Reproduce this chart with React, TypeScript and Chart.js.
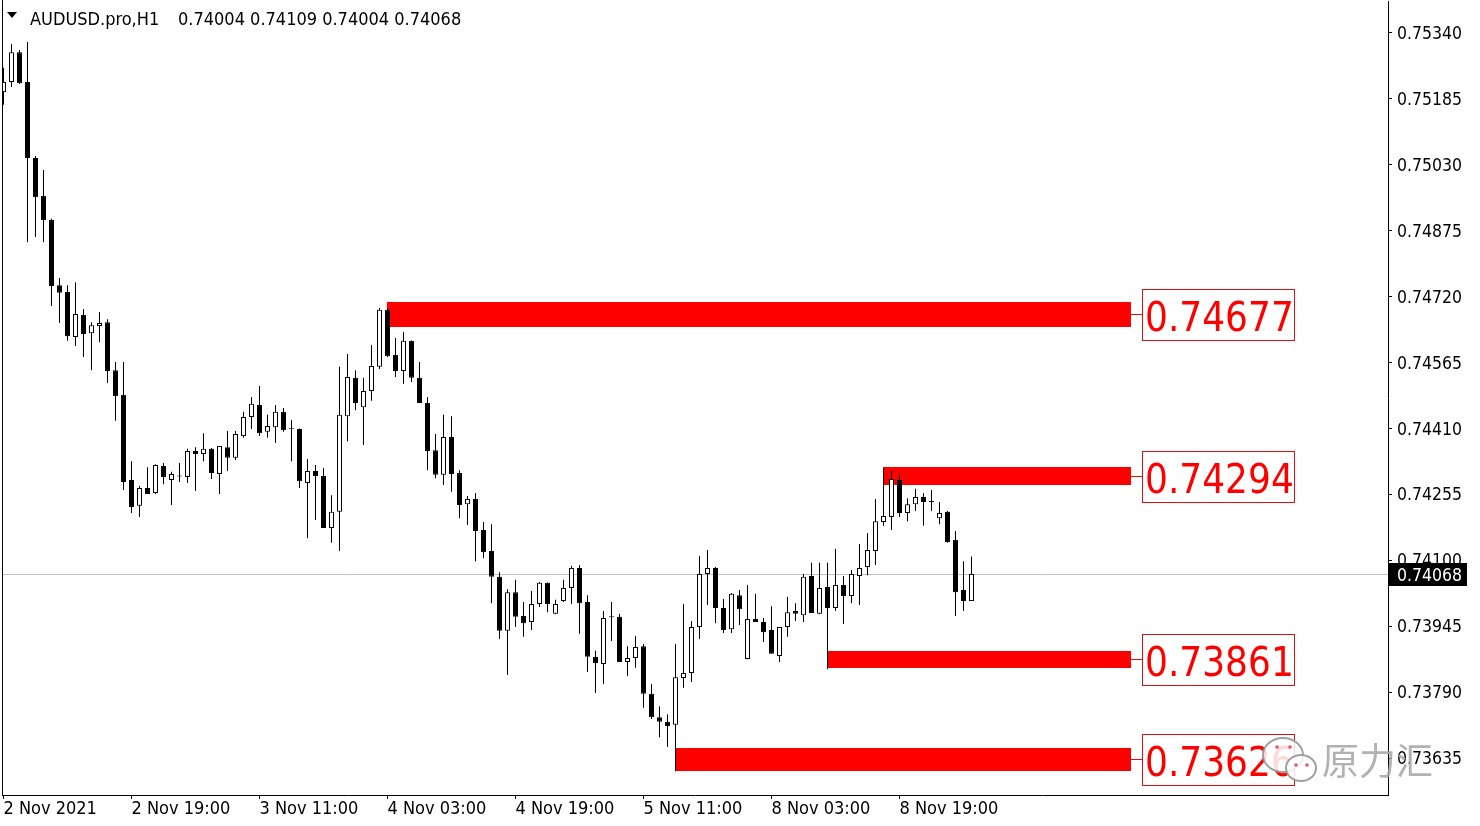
import React, { useEffect, useRef } from 'react';
import { Chart, registerables } from 'chart.js';

Chart.register(...registerables);

const W = 1480;
const H = 826;
const FONT = '"DejaVu Sans Condensed", "DejaVu Sans", sans-serif';

const symbolTitle = 'AUDUSD.pro,H1';

const opens = [
  0.75201, 0.75225, 0.75295, 0.75225, 0.75046, 0.74957, 0.74900, 0.74747, 0.74731, 0.74625,
  0.74677, 0.74634, 0.74651, 0.74660, 0.74547, 0.74489, 0.74289, 0.74228, 0.74270, 0.74258,
  0.74322, 0.74289, 0.74297, 0.74296, 0.74357, 0.74350, 0.74362, 0.74303, 0.74366, 0.74341,
  0.74392, 0.74437, 0.74465, 0.74402, 0.74413, 0.74449, 0.74409, 0.74409, 0.74282, 0.74310,
  0.74298, 0.74176, 0.74214, 0.74439, 0.74529, 0.74460, 0.74498, 0.74555, 0.74689, 0.74583,
  0.74545, 0.74616, 0.74529, 0.74470, 0.74359, 0.74301, 0.74390, 0.74305, 0.74232, 0.74244,
  0.74171, 0.74122, 0.74061, 0.73934, 0.74025, 0.73969, 0.73955, 0.73997, 0.74047, 0.73974,
  0.74004, 0.74035, 0.74082, 0.74002, 0.73873, 0.73856, 0.73968, 0.73967, 0.73861, 0.73870,
  0.73898, 0.73786, 0.73731, 0.73720, 0.73713, 0.73823, 0.73835, 0.73943, 0.74068, 0.74082,
  0.73988, 0.73938, 0.74018, 0.73868, 0.73962, 0.73955, 0.73936, 0.73875, 0.73943, 0.73981,
  0.73971, 0.74063, 0.73974, 0.74037, 0.73988, 0.74042, 0.74016, 0.74063, 0.74084, 0.74122,
  0.74190, 0.74202, 0.74289, 0.74211, 0.74232, 0.74249, 0.74238, 0.74199, 0.74214, 0.74148,
  0.74030, 0.74004,
];

const highs = [
  0.75258, 0.75314, 0.75300, 0.75319, 0.75051, 0.75018, 0.74903, 0.74764, 0.74747, 0.74754,
  0.74691, 0.74660, 0.74684, 0.74667, 0.74566, 0.74566, 0.74333, 0.74275, 0.74319, 0.74326,
  0.74329, 0.74308, 0.74329, 0.74362, 0.74366, 0.74399, 0.74364, 0.74369, 0.74404, 0.74404,
  0.74449, 0.74484, 0.74510, 0.74442, 0.74465, 0.74458, 0.74430, 0.74410, 0.74338, 0.74324,
  0.74317, 0.74253, 0.74555, 0.74585, 0.74547, 0.74529, 0.74606, 0.74693, 0.74693, 0.74623,
  0.74637, 0.74617, 0.74566, 0.74484, 0.74397, 0.74442, 0.74439, 0.74312, 0.74251, 0.74258,
  0.74190, 0.74185, 0.74072, 0.74032, 0.74054, 0.74002, 0.74028, 0.74049, 0.74048, 0.74007,
  0.74054, 0.74087, 0.74089, 0.74018, 0.73887, 0.73981, 0.74002, 0.73974, 0.73898, 0.73922,
  0.73903, 0.73809, 0.73757, 0.73738, 0.73903, 0.73997, 0.73957, 0.74110, 0.74124, 0.74084,
  0.74009, 0.74023, 0.74030, 0.74042, 0.74021, 0.73964, 0.73992, 0.73943, 0.74014, 0.73999,
  0.74068, 0.74094, 0.74094, 0.74094, 0.74127, 0.74063, 0.74077, 0.74138, 0.74164, 0.74244,
  0.74317, 0.74312, 0.74301, 0.74246, 0.74268, 0.74258, 0.74265, 0.74237, 0.74216, 0.74169,
  0.74098, 0.74109,
];

const lows = [
  0.75171, 0.75213, 0.75220, 0.74848, 0.74860, 0.74848, 0.74698, 0.74658, 0.74616, 0.74604,
  0.74578, 0.74547, 0.74613, 0.74517, 0.74428, 0.74265, 0.74211, 0.74202, 0.74256, 0.74256,
  0.74279, 0.74230, 0.74284, 0.74282, 0.74263, 0.74333, 0.74291, 0.74256, 0.74310, 0.74336,
  0.74388, 0.74409, 0.74392, 0.74388, 0.74376, 0.74402, 0.74333, 0.74270, 0.74152, 0.74195,
  0.74176, 0.74141, 0.74122, 0.74380, 0.74453, 0.74371, 0.74475, 0.74550, 0.74578, 0.74531,
  0.74515, 0.74519, 0.74470, 0.74312, 0.74293, 0.74277, 0.74261, 0.74199, 0.74183, 0.74098,
  0.74105, 0.73999, 0.73915, 0.73830, 0.73943, 0.73920, 0.73936, 0.73990, 0.73978, 0.73973,
  0.74002, 0.73997, 0.73927, 0.73837, 0.73788, 0.73809, 0.73910, 0.73861, 0.73828, 0.73847,
  0.73753, 0.73727, 0.73684, 0.73661, 0.73604, 0.73800, 0.73814, 0.73915, 0.73995, 0.73952,
  0.73929, 0.73929, 0.73948, 0.73867, 0.73955, 0.73908, 0.73880, 0.73861, 0.73920, 0.73957,
  0.73955, 0.73976, 0.73973, 0.73844, 0.73981, 0.73950, 0.73999, 0.73995, 0.74065, 0.74089,
  0.74181, 0.74171, 0.74202, 0.74192, 0.74216, 0.74181, 0.74216, 0.74185, 0.74141, 0.73969,
  0.73981, 0.74004,
];

const closes = [
  0.75225, 0.75295, 0.75222, 0.75046, 0.74954, 0.74900, 0.74745, 0.74729, 0.74627, 0.74679,
  0.74632, 0.74653, 0.74658, 0.74545, 0.74486, 0.74284, 0.74225, 0.74270, 0.74256, 0.74324,
  0.74296, 0.74303, 0.74298, 0.74357, 0.74350, 0.74362, 0.74305, 0.74369, 0.74341, 0.74397,
  0.74437, 0.74468, 0.74399, 0.74416, 0.74449, 0.74406, 0.74408, 0.74286, 0.74310, 0.74298,
  0.74176, 0.74214, 0.74442, 0.74531, 0.74470, 0.74498, 0.74557, 0.74689, 0.74580, 0.74545,
  0.74616, 0.74529, 0.74470, 0.74357, 0.74301, 0.74390, 0.74303, 0.74230, 0.74244, 0.74169,
  0.74119, 0.74061, 0.73934, 0.74025, 0.73967, 0.73952, 0.73997, 0.74047, 0.73997, 0.73997,
  0.74035, 0.74082, 0.73999, 0.73873, 0.73858, 0.73964, 0.73966, 0.73861, 0.73870, 0.73896,
  0.73786, 0.73731, 0.73720, 0.73710, 0.73825, 0.73835, 0.73943, 0.74068, 0.74082, 0.73988,
  0.73936, 0.74021, 0.73985, 0.73962, 0.73955, 0.73931, 0.73880, 0.73943, 0.73978, 0.73974,
  0.74061, 0.73976, 0.74035, 0.73988, 0.74042, 0.74016, 0.74068, 0.74082, 0.74124, 0.74192,
  0.74204, 0.74291, 0.74211, 0.74232, 0.74249, 0.74237, 0.74237, 0.74211, 0.74143, 0.74025,
  0.74004, 0.74068,
];

const xTickIndex = [0, 16, 32, 48, 64, 80, 96, 112];
const xTickLabels = [
  '2 Nov 2021', '2 Nov 19:00', '3 Nov 11:00', '4 Nov 03:00',
  '4 Nov 19:00', '5 Nov 11:00', '8 Nov 03:00', '8 Nov 19:00',
];
const yTicks = [
  0.73635, 0.7379, 0.73945, 0.741, 0.74255, 0.7441,
  0.74565, 0.7472, 0.74875, 0.7503, 0.75185, 0.7534,
];

const zoneLabels = ['0.74677', '0.74294', '0.73861', '0.73626'];
const zoneTop = [0.74707, 0.74319, 0.73887, 0.73659];
const zoneBottom = [0.74649, 0.74277, 0.73847, 0.73604];
const zoneStart = [48, 110, 103, 84];
const zoneEnd = 141;

const watermarkText = '原力汇';

const Y_MIN = 0.73548;
const Y_MAX = 0.7541525;
const X_MIN = -0.1875;
const X_MAX = 173.0625;

export default function App() {
  const ref = useRef<HTMLCanvasElement>(null);

  useEffect(() => {
    const canvas = ref.current;
    if (!canvas) return;
    const last = closes.length - 1;

    const overlay = {
      id: 'mtOverlay',
      beforeDatasetsDraw(chart: any) {
        const { ctx, chartArea: a, scales } = chart;
        const x = scales.x;
        const y = scales.y;
        ctx.save();
        ctx.beginPath();
        ctx.rect(a.left, a.top, a.right - a.left, a.bottom - a.top);
        ctx.clip();
        // current price line
        const py = Math.round(y.getPixelForValue(closes[last])) + 0.5;
        ctx.strokeStyle = '#c0c0c0';
        ctx.lineWidth = 1;
        ctx.beginPath();
        ctx.moveTo(a.left, py);
        ctx.lineTo(a.right, py);
        ctx.stroke();
        // zones
        ctx.fillStyle = '#ff0000';
        zoneTop.forEach((t, i) => {
          const x0 = Math.floor(x.getPixelForValue(zoneStart[i]));
          const x1 = Math.floor(x.getPixelForValue(zoneEnd));
          const y0 = Math.round(y.getPixelForValue(t));
          const y1 = Math.round(y.getPixelForValue(zoneBottom[i]));
          ctx.fillRect(x0, y0, x1 - x0, y1 - y0);
        });
        ctx.restore();
      },
      afterDraw(chart: any) {
        const { ctx, chartArea: a, scales } = chart;
        const x = scales.x;
        const y = scales.y;
        ctx.save();
        // left frame line
        ctx.fillStyle = '#000';
        ctx.fillRect(a.left, 0, 1, a.bottom);

        // zone labels
        const labelX = 1142;
        zoneLabels.forEach((lab, i) => {
          const mid = (y.getPixelForValue(zoneTop[i]) + y.getPixelForValue(zoneBottom[i])) / 2;
          const cy = Math.round(mid);
          ctx.strokeStyle = '#e01010';
          ctx.lineWidth = 1;
          ctx.beginPath();
          ctx.moveTo(Math.floor(x.getPixelForValue(zoneEnd)), cy + 0.5);
          ctx.lineTo(labelX, cy + 0.5);
          ctx.stroke();
          ctx.fillStyle = '#ffffff';
          ctx.fillRect(labelX, cy - 25, 152, 51);
          ctx.strokeRect(labelX + 0.5, cy - 25 + 0.5, 152, 51);
          ctx.fillStyle = '#ff0000';
          ctx.font = `40px ${FONT}`;
          ctx.textAlign = 'left';
          ctx.textBaseline = 'alphabetic';
          ctx.fillText(lab, labelX + 3, cy + 17);
        });

        // title
        ctx.fillStyle = '#000';
        ctx.beginPath();
        ctx.moveTo(7, 12);
        ctx.lineTo(17, 12);
        ctx.lineTo(12, 18);
        ctx.closePath();
        ctx.fill();
        ctx.font = `18px ${FONT}`;
        ctx.textAlign = 'left';
        ctx.textBaseline = 'alphabetic';
        ctx.fillText(symbolTitle, 30, 25);
        const ohlc = [opens[last], highs[last], lows[last], closes[last]].map((v) => v.toFixed(5)).join(' ');
        ctx.fillText(ohlc, 178, 25);

        // current price box on axis
        const py = Math.round(y.getPixelForValue(closes[last]));
        ctx.fillStyle = '#000';
        ctx.fillRect(a.right + 1, py - 11, 78, 23);
        ctx.fillStyle = '#fff';
        ctx.font = `17.5px ${FONT}`;
        ctx.textBaseline = 'middle';
        ctx.fillText(closes[last].toFixed(5), a.right + 9, py + 2);

        // watermark
        ctx.fillStyle = 'rgba(255,255,255,0.85)';
        ctx.strokeStyle = 'rgba(150,150,150,0.9)';
        ctx.lineWidth = 2;
        ctx.beginPath();
        ctx.ellipse(1283, 755, 20, 17, 0, 0, Math.PI * 2);
        ctx.fill();
        ctx.stroke();
        ctx.beginPath();
        ctx.ellipse(1301, 768, 15, 13, 0, 0, Math.PI * 2);
        ctx.fill();
        ctx.stroke();
        ctx.fillStyle = 'rgba(220,60,80,0.85)';
        [[1277, 747], [1290, 747], [1296, 765], [1307, 765]].forEach(([dx, dy]) => {
          ctx.beginPath();
          ctx.arc(dx, dy, 1.8, 0, Math.PI * 2);
          ctx.fill();
        });
        ctx.font = '37px "Noto Sans CJK SC", sans-serif';
        ctx.fillStyle = 'rgba(165,165,165,0.85)';
        ctx.textBaseline = 'middle';
        ctx.fillText(watermarkText, 1322, 761);
        ctx.restore();
      },
    };

    const bodyColors = opens.map((o, i) => (closes[i] - o > 0.000015 ? '#ffffff' : '#000000'));

    const chart = new Chart(canvas, {
      type: 'bar',
      data: {
        datasets: [
          {
            label: 'body',
            data: opens.map((o, i) => ({ x: i, y: [o, closes[i]] })) as any,
            backgroundColor: bodyColors,
            borderColor: '#000000',
            borderWidth: 1,
            borderSkipped: false,
            barThickness: 5,
            minBarLength: 1,
            inflateAmount: 0,
            grouped: false,
            clip: 0,
            order: 0,
          } as any,
          {
            label: 'wick',
            data: lows.map((l, i) => ({ x: i, y: [l, highs[i]] })) as any,
            backgroundColor: '#000000',
            borderWidth: 0,
            barThickness: 1,
            inflateAmount: 0,
            grouped: false,
            clip: 0,
            order: 1,
          } as any,
        ],
      },
      options: {
        responsive: false,
        maintainAspectRatio: false,
        devicePixelRatio: 1,
        animation: false,
        events: [],
        layout: { padding: { left: 2, top: 1, right: 0, bottom: 0 } },
        plugins: { legend: { display: false }, tooltip: { enabled: false } },
        scales: {
          x: {
            type: 'linear',
            min: X_MIN,
            max: X_MAX,
            offset: false,
            afterBuildTicks: (s: any) => {
              s.ticks = xTickIndex.map((v) => ({ value: v }));
            },
            afterFit: (s: any) => {
              s.height = 31;
              s.paddingLeft = 0;
              s.paddingRight = 0;
            },
            grid: { drawOnChartArea: false, drawTicks: true, tickLength: 4, color: '#000', offset: false },
            border: { display: true, color: '#000', width: 1 },
            ticks: {
              autoSkip: false,
              maxRotation: 0,
              minRotation: 0,
              align: 'start',
              padding: 0,
              color: '#000',
              font: { family: FONT, size: 18 },
              callback: (_v: any, i: number) => xTickLabels[i],
            },
          } as any,
          y: {
            type: 'linear',
            position: 'right',
            min: Y_MIN,
            max: Y_MAX,
            beginAtZero: false,
            afterBuildTicks: (s: any) => {
              s.ticks = yTicks.map((v) => ({ value: v }));
            },
            afterFit: (s: any) => {
              s.width = 92;
              s.paddingTop = 0;
              s.paddingBottom = 0;
            },
            grid: { drawOnChartArea: false, drawTicks: true, tickLength: 4, color: '#000' },
            border: { display: true, color: '#000', width: 1 },
            ticks: {
              autoSkip: false,
              padding: 5,
              labelOffset: 1.5,
              color: '#000',
              font: { family: FONT, size: 17.5 },
              callback: (v: any) => Number(v).toFixed(5),
            },
          } as any,
        },
      },
      plugins: [overlay],
    });

    return () => chart.destroy();
  }, []);

  return (
    <div style={{ position: 'absolute', left: 0, top: 0, width: W, height: H, background: '#fff' }}>
      <canvas ref={ref} width={W} height={H} style={{ width: W, height: H, display: 'block' }} />
    </div>
  );
}
